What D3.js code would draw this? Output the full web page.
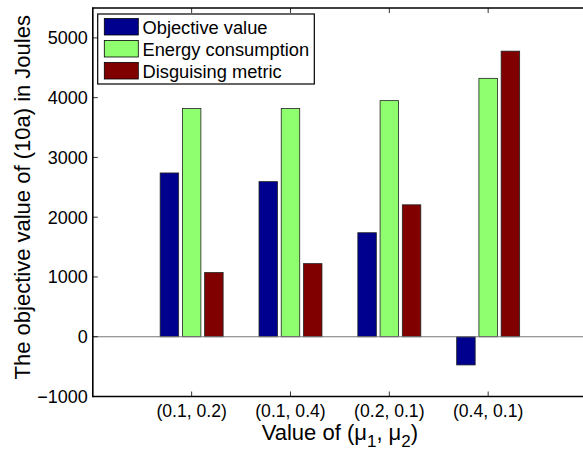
<!DOCTYPE html>
<html>
<head>
<meta charset="utf-8">
<script src="https://d3js.org/d3.v7.min.js"></script>
<style>
  body { margin: 0; background: #fff; }
  text { font-family: "Liberation Sans", Arial, sans-serif; }
</style>
</head>
<body>
<div id="chart"></div>
<script>
// data
var categories = ["(0.1, 0.2)", "(0.1, 0.4)", "(0.2, 0.1)", "(0.4, 0.1)"];
var seriesNames = ["Objective value", "Energy consumption", "Disguising metric"];
var objectiveValue = [2740, 2595, 1740, -472];
var energyConsumption = [3817, 3817, 3950, 4323];
var disguisingMetric = [1073, 1223, 2207, 4778];
var yTicks = [-1000, 0, 1000, 2000, 3000, 4000, 5000];
var colors = ["#00008f", "#8fff70", "#800000"];

var series = [objectiveValue, energyConsumption, disguisingMetric];

var width = 583, height = 453;
var plotLeft = 92.8, plotRight = 587, plotTop = 8, plotBottom = 396.5;

var svg = d3.select("#chart").append("svg")
    .attr("width", width).attr("height", height);

var x = d3.scaleLinear().domain([0, 5]).range([plotLeft, plotRight]);
var y = d3.scaleLinear().domain([-1000, 5500]).range([plotBottom, plotTop]);

var barW = 0.187, offset = 0.225;

// bars
series.forEach(function (vals, s) {
    svg.selectAll(".bar" + s).data(vals).enter().append("rect")
        .attr("x", function (d, i) { return x(i + 1 + (s - 1) * offset - barW / 2); })
        .attr("width", x(barW) - x(0))
        .attr("y", function (d) { return y(Math.max(0, d)); })
        .attr("height", function (d) { return Math.abs(y(d) - y(0)); })
        .attr("fill", colors[s])
        .attr("stroke", "#222")
        .attr("stroke-width", 0.8);
});

// baseline
svg.append("line")
    .attr("x1", plotLeft).attr("x2", width)
    .attr("y1", y(0)).attr("y2", y(0))
    .attr("stroke", "#777").attr("stroke-width", 1.2);

// axes box
var box = svg.append("g").attr("stroke", "#000").attr("stroke-width", 1.6).attr("fill", "none");
box.append("line").attr("x1", plotLeft).attr("x2", width).attr("y1", plotBottom).attr("y2", plotBottom);
box.append("line").attr("x1", plotLeft).attr("x2", width).attr("y1", plotTop).attr("y2", plotTop);
box.append("line").attr("x1", plotLeft).attr("x2", plotLeft).attr("y1", plotTop - 0.8).attr("y2", plotBottom + 0.8);

// x ticks (inward, bottom & top)
categories.forEach(function (c, i) {
    var xx = x(i + 1);
    svg.append("line").attr("x1", xx).attr("x2", xx).attr("y1", plotBottom).attr("y2", plotBottom - 5)
        .attr("stroke", "#000").attr("stroke-width", 0.8);
    svg.append("line").attr("x1", xx).attr("x2", xx).attr("y1", plotTop).attr("y2", plotTop + 5)
        .attr("stroke", "#000").attr("stroke-width", 0.8);
    svg.append("text").attr("x", xx).attr("y", 417)
        .attr("text-anchor", "middle").attr("font-size", 17.6).text(c);
});

// y ticks
yTicks.forEach(function (t) {
    var yy = y(t);
    svg.append("line").attr("x1", plotLeft).attr("x2", plotLeft + 5).attr("y1", yy).attr("y2", yy)
        .attr("stroke", "#000").attr("stroke-width", 0.8);
    svg.append("text").attr("x", plotLeft - 5).attr("y", yy + 6.5)
        .attr("text-anchor", "end").attr("font-size", 18)
        .text(t < 0 ? "\u2212" + Math.abs(t) : t);
});

// axis labels
svg.append("text")
    .attr("transform", "translate(30," + ((plotTop + plotBottom) / 2 - 5) + ") rotate(-90)")
    .attr("text-anchor", "middle").attr("font-size", 22)
    .text("The objective value of (10a) in Joules");

var xl = svg.append("text").attr("x", (plotLeft + plotRight) / 2).attr("y", 439.5)
    .attr("text-anchor", "middle").attr("font-size", 22);
xl.append("tspan").text("Value of (\u03bc");
xl.append("tspan").attr("dy", 7).attr("font-size", 17).text("1");
xl.append("tspan").attr("dy", -7).text(", \u03bc");
xl.append("tspan").attr("dy", 7).attr("font-size", 17).text("2");
xl.append("tspan").attr("dy", -7).text(")");

// legend
var lg = svg.append("g");
lg.append("rect").attr("x", 97.7).attr("y", 14).attr("width", 216.6).attr("height", 70)
    .attr("fill", "#fff").attr("stroke", "#000").attr("stroke-width", 1.2);
seriesNames.forEach(function (n, i) {
    var yy = 18.5 + i * 22;
    lg.append("rect").attr("x", 104.3).attr("y", yy).attr("width", 34).attr("height", 16.5)
        .attr("fill", colors[i]).attr("stroke", "#000").attr("stroke-width", 0.8);
    lg.append("text").attr("x", 142.5).attr("y", yy + 15.5).attr("font-size", 18.3).text(n);
});
</script>
</body>
</html>
